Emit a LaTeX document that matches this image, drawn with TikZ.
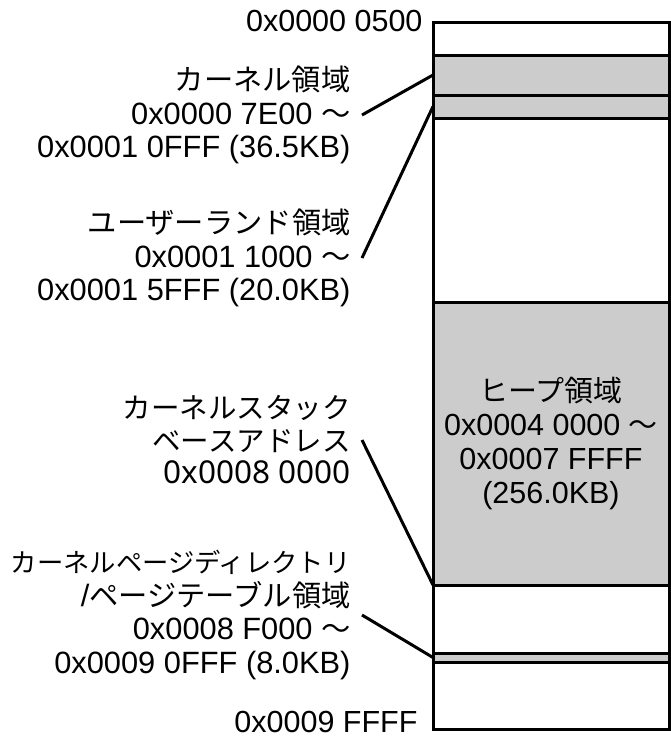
\documentclass[tikz,border=0pt]{standalone}
\usepackage{fontspec}
\setmainfont{Liberation Sans}
\newfontfamily\jp[Scale=0.95]{Noto Sans CJK JP}
\newfontfamily\notosans{Noto Sans}
\definecolor{areagray}{HTML}{CCCCCC}

\begin{document}
\begin{tikzpicture}[
        x=1pt, y=-1pt, line width=3pt,
        area/.style={draw, fill=#1, anchor=north west, minimum width=236pt,
                     inner sep=0pt, outer sep=0pt},
        lbl/.style={align=right, anchor=east, inner xsep=10pt, inner ysep=0pt,
                    font=\fontsize{30.8}{33.5}\selectfont},
        addr/.style={anchor=base east, inner sep=0pt,
                     font=\fontsize{30.5}{32}\selectfont},
    ]
    \useasboundingbox (0,0) rectangle (671,745);

    % memory map, top to bottom
    \foreach \nm/\y/\h/\fc in {start/22/33/white, kern/55/40/areagray,
            user/95/23/areagray, free/118/184/white, heap/302/283/areagray,
            stack/585/68/white, pgdir/653/9/areagray, tail/662/67/white}
        \node[area=\fc, minimum height=\h pt] (\nm) at (433,\y) {};

    \node[align=center, font=\fontsize{30.5}{34}\selectfont] (heaptxt) at (heap.center)
        {{\jp ヒープ領域}\\0x0004 0000 {\jp 〜}\\0x0007 FFFF\\(256.0KB)};

    \node[addr] (lo) at (424,31.5) {0x0000 0500};
    \node[addr] (hi) at (419,732) {0x0009 FFFF};

    \node[lbl] (kernlbl) at (362,115)
        {{\jp カーネル領域}\\0x0000 7E00 {\jp 〜}\\0x0001 0FFF (36.5KB)};
    \node[lbl] (userlbl) at (362,258)
        {{\jp ユーザーランド領域}\\0x0001 1000 {\jp 〜}\\0x0001 5FFF (20.0KB)};
    \node[lbl, font=\jp\fontsize{30}{32.5}\selectfont] (stacklbl) at (362,440)
        {カーネルスタック\\ベースアドレス\\{\notosans\fontsize{31.5}{32.5}\selectfont 0x0008 0000}};
    \node[lbl] (pgdirlbl) at (362,615)
        {{\jp\fontsize{27.7}{33.5}\selectfont カーネルページディレクトリ}\\
         /{\jp ページテーブル領域}\\0x0008 F000 {\jp 〜}\\0x0009 0FFF (8.0KB)};

    \draw (kernlbl.east) -- (kern.west);
    \draw (userlbl.east) -- (user.west);
    \draw (stacklbl.east) -- (heap.south west);
    \draw (pgdirlbl.east) -- (pgdir.west);
\end{tikzpicture}
\end{document}
